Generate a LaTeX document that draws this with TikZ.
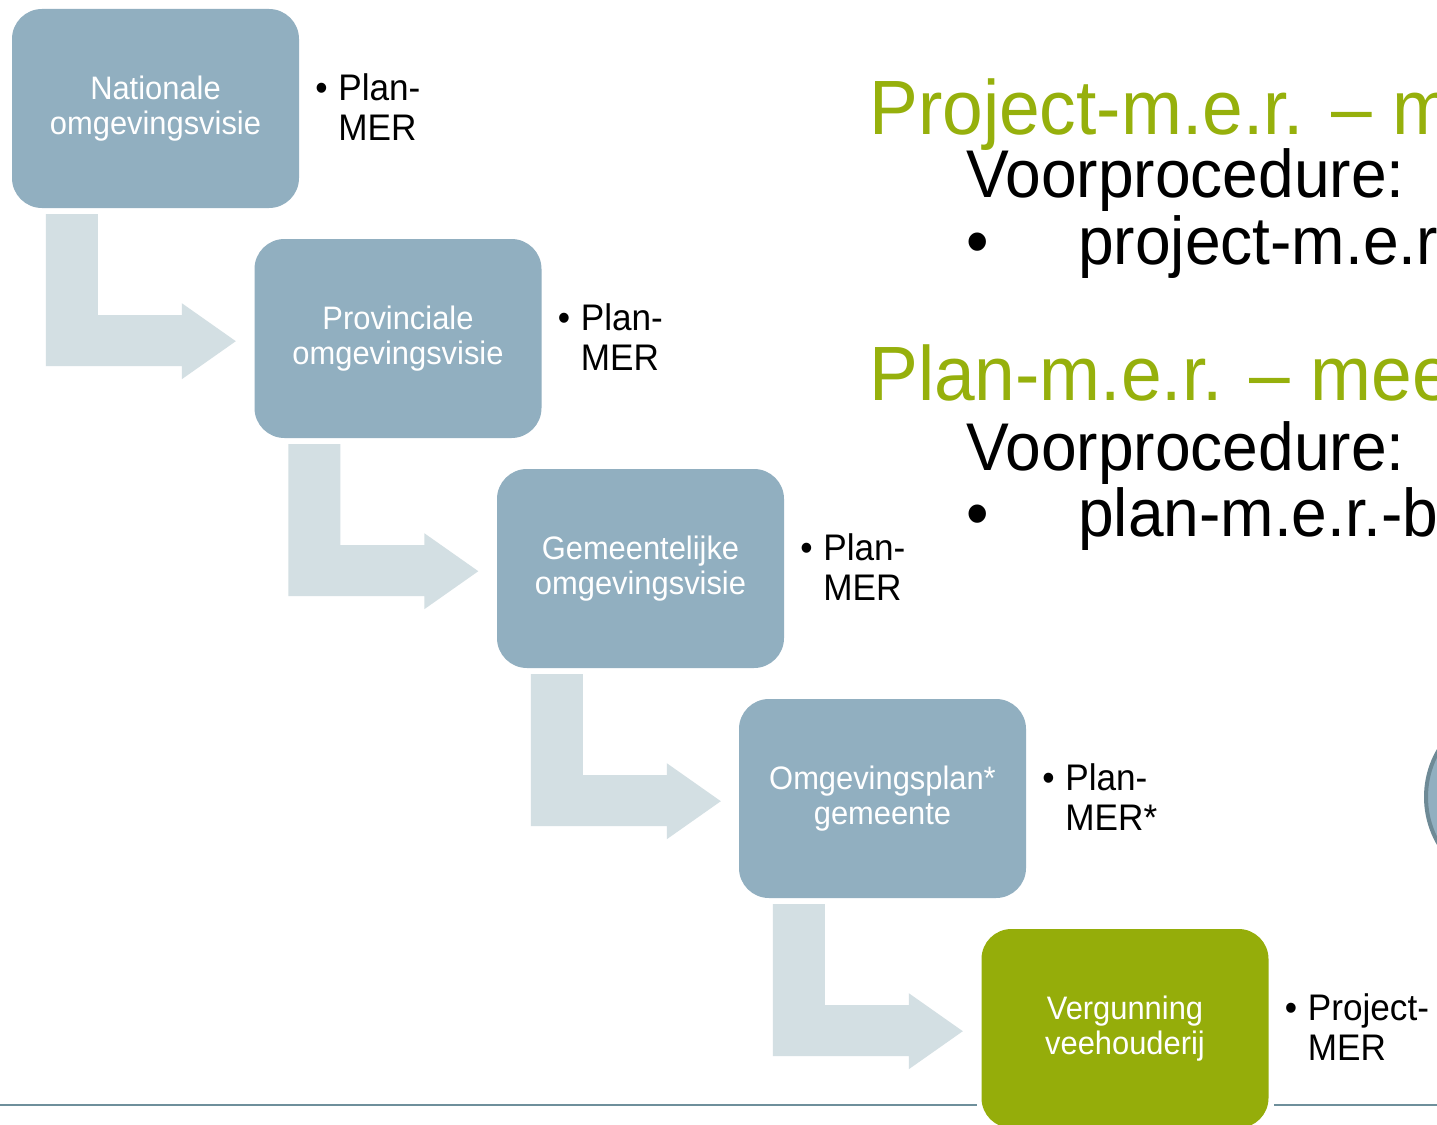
\documentclass[tikz,border=0pt]{standalone}
\usepackage{fontspec}
\setmainfont{Liberation Sans}[FakeStretch=0.95]
\usetikzlibrary{calc}
\definecolor{boxblue}{RGB}{145,175,192}
\definecolor{arrowgray}{RGB}{211,223,227}
\definecolor{leafgreen}{RGB}{149,173,10}
\definecolor{titlegreen}{RGB}{150,176,12}
\definecolor{rulecol}{RGB}{110,143,155}
\definecolor{ringcol}{RGB}{110,138,150}
\tikzset{
  stagebox/.style={fill=boxblue, rounded corners=30pt, minimum width=287pt,
    minimum height=199pt, inner sep=0pt, align=center, text=white,
    font=\fontsize{32.5}{35}\selectfont},
  greenbox/.style={stagebox, fill=leafgreen},
  bentarrow/.style={fill=arrowgray},
  sidelabel/.style={anchor=base west, inner sep=0pt,
    font=\fontsize{37}{40}\selectfont},
  titletext/.style={anchor=base west, inner sep=0pt, text=titlegreen,
    font=\fontsize{77}{80}\selectfont},
  subtext/.style={anchor=base west, inner sep=0pt,
    font=\fontsize{67.5}{70}\selectfont},
}
\newcommand{\stagearrow}[1]{%
  \fill[bentarrow] ($(#1.south west)+(34,6)$) -- ($(#1.south west)+(86,6)$)
    -- ($(#1.south west)+(86,107)$) -- ($(#1.south west)+(170,107)$)
    -- ($(#1.south west)+(170,95)$) -- ($(#1.south west)+(224,133)$)
    -- ($(#1.south west)+(170,171)$) -- ($(#1.south west)+(170,158)$)
    -- ($(#1.south west)+(34,158)$) -- cycle;}
\newcommand{\sidetext}[2]{\begin{tabular}[t]{@{}p{23pt}@{}l@{}}\textbullet & #1\\ & #2\end{tabular}}
\begin{document}
\begin{tikzpicture}[x=1pt,y=-1pt]
\useasboundingbox (0,0) rectangle (1437,1124);
\clip (0,0) rectangle (1437,1124);
\fill[white] (0,0) rectangle (1437,1124);

% bottom rule
\draw[rulecol, line width=2pt] (0,1105) -- (977,1105);
\draw[rulecol, line width=2pt] (1274,1105) -- (1437,1105);

% circle at right edge
\node[circle, fill=boxblue, draw=ringcol, line width=4pt, minimum size=186pt, inner sep=0pt] (ring) at (1519,797) {};

% stage boxes
\node[stagebox] (b1) at (155.5,108.5) {Nationale\\omgevingsvisie};
\node[stagebox] (b2) at (398,338.5) {Provinciale\\omgevingsvisie};
\node[stagebox] (b3) at (640.5,568.5) {Gemeentelijke\\omgevingsvisie};
\node[stagebox] (b4) at (882.5,798.5) {Omgevingsplan*\\gemeente};
\node[greenbox] (b5) at (1125,1028.5) {Vergunning\\veehouderij};

% bent arrows
\stagearrow{b1}
\stagearrow{b2}
\stagearrow{b3}
\stagearrow{b4}

% side labels
\node[sidelabel] (l1) at ($(b1.north east)+(16,92)$) {\sidetext{Plan-}{MER}};
\node[sidelabel] (l2) at ($(b2.north east)+(16,92)$) {\sidetext{Plan-}{MER}};
\node[sidelabel] (l3) at ($(b3.north east)+(16,92)$) {\sidetext{Plan-}{MER}};
\node[sidelabel] (l4) at ($(b4.north east)+(16,92)$) {\sidetext{Plan-}{MER*}};
\node[sidelabel] (l5) at ($(b5.north east)+(16,92)$) {\sidetext{Project-}{MER}};

% right-hand text
\node[titletext] (t1) at (869,134) {Project-m.e.r. – met};
\node[subtext] (v1) at (966,197) {Voorprocedure:};
\node[subtext] (p1) at (966,264) {\makebox[112pt][l]{\textbullet}project-m.e.r.};
\node[titletext] (t2) at (869,400) {Plan-m.e.r. – mee};
\node[subtext] (v2) at (966,470) {Voorprocedure:};
\node[subtext] (p2) at (966,536) {\makebox[112pt][l]{\textbullet}plan-m.e.r.-b};
\end{tikzpicture}
\end{document}
